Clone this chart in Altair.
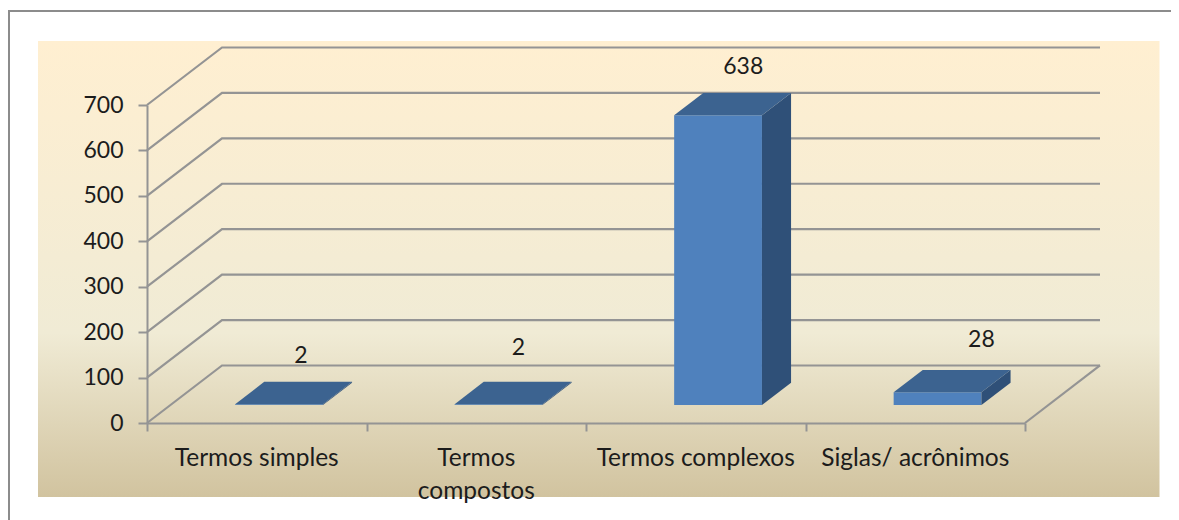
import altair as alt
import pandas as pd

categories = ["Termos simples", "Termos compostos", "Termos complexos", "Siglas/ acrônimos"]
axis_labels = ["Termos simples", "Termos\ncompostos", "Termos complexos", "Siglas/ acrônimos"]
values = [2, 2, 638, 28]
y_ticks = [0, 100, 200, 300, 400, 500, 600, 700]
x_ticks = [0, 1, 2, 3, 4]

# oblique projection: a point at depth d (0 front .. 1 back) moves by d*DX, d*DY
DX, DY = 0.3417, 126.6
BAR_L, BAR_W = 0.295, 0.4
D0, D1 = 0.312, 0.70
LABEL_LIFT = [57, 75, 57, 66]
LABEL_SHIFT = [0.10, 0.09, 0.115, 0.20]

FONT = "Lato"
GRID = "#949494"
x_s = alt.Scale(domain=[0, 4], nice=False, zero=False)
y_s = alt.Scale(domain=[0, 700], nice=False, zero=False)
x_ax = alt.Axis(values=x_ticks, labels=False, title=None, grid=False, tickSize=8, tickWidth=2,
                tickColor=GRID, domainColor=GRID, domainWidth=2, zindex=1)
y_ax = alt.Axis(values=y_ticks, title=None, grid=False, tickSize=9, tickWidth=2, tickColor=GRID,
                domainColor=GRID, domainWidth=2, labelFont=FONT, labelFontSize=23,
                labelColor="#1c1c1c", labelPadding=15, zindex=1)
X = alt.X("x:Q", scale=x_s, axis=x_ax)
Y = alt.Y("y:Q", scale=y_s, axis=y_ax)

# wall lines
wall = []
for v in y_ticks:
    wall += [{"k": f"w{v}", "o": 0, "x": 0, "y": v},
             {"k": f"w{v}", "o": 1, "x": DX, "y": v + DY},
             {"k": f"w{v}", "o": 2, "x": 4 + DX, "y": v + DY}]
wall += [{"k": "floor", "o": 0, "x": 4, "y": 0}, {"k": "floor", "o": 1, "x": 4 + DX, "y": DY}]
grid = alt.Chart(pd.DataFrame(wall)).mark_line(color=GRID, strokeWidth=2.2).encode(
    x=X, y=Y, detail="k:N", order="o:Q")

# bar faces
front, top, side, labels = [], [], [], []
for i, (c, v) in enumerate(zip(categories, values)):
    a, b = i + BAR_L, i + BAR_L + BAR_W
    front.append({"c": c, "x": a + D0 * DX, "x2": b + D0 * DX, "y": D0 * DY, "y2": v + D0 * DY})
    for d in (D0, D1):
        top.append({"c": c, "y": v + d * DY, "x": a + d * DX, "x2": b + d * DX})
        side.append({"c": c, "x": b + d * DX, "y": d * DY, "y2": v + d * DY})
    labels.append({"t": str(v), "x": (a + b) / 2 + D0 * DX + LABEL_SHIFT[i],
                   "y": v + D1 * DY + LABEL_LIFT[i]})

front_l = alt.Chart(pd.DataFrame(front)).mark_rect(color="#4F81BD").encode(
    x=X, x2="x2:Q", y=Y, y2="y2:Q")
top_l = alt.Chart(pd.DataFrame(top)).mark_area(orient="horizontal", color="#3C6390", opacity=1).encode(
    x=X, x2="x2:Q", y=Y, detail="c:N")
side_l = alt.Chart(pd.DataFrame(side)).mark_area(orient="vertical", color="#2F5078", opacity=1).encode(
    x=X, y=Y, y2="y2:Q", detail="c:N")
val_l = alt.Chart(pd.DataFrame(labels)).mark_text(
    font=FONT, fontSize=23, color="#1c1c1c", baseline="middle", align="center").encode(
    x=X, y=Y, text="t:N")

cat_df = pd.DataFrame({"t": axis_labels, "x": [i + 0.5 for i in range(4)]})
cat_l = alt.Chart(cat_df).mark_text(
    font=FONT, fontSize=24.5, color="#1c1c1c", baseline="top", align="center",
    lineBreak="\n", lineHeight=33).encode(
    x=X, y=alt.value(341.5), text="t:N")

# chart-area panel and its frame
one = pd.DataFrame({"a": [0]})
panel = alt.Chart(one).mark_rect(color=alt.Gradient(
    gradient="linear", x1=0, x2=0, y1=0, y2=1,
    stops=[alt.GradientStop(color="#FFEFD1", offset=0),
           alt.GradientStop(color="#F0EBD5", offset=0.64),
           alt.GradientStop(color="#D1C39F", offset=1)])).encode(
    x=alt.value(-109), x2=alt.value(1012.5), y=alt.value(-64), y2=alt.value(392))
frame_l = alt.Chart(one).mark_rule(color="#8C8C8C", strokeWidth=2).encode(
    x=alt.value(-138), y=alt.value(-94), y2=alt.value(420))
frame_t = alt.Chart(one).mark_rule(color="#8C8C8C", strokeWidth=2).encode(
    x=alt.value(-139), x2=alt.value(1040), y=alt.value(-94))

chart = alt.layer(panel, frame_l, frame_t, grid, front_l, side_l, top_l, val_l, cat_l).properties(
    width=878, height=318,
    padding={"left": 139, "top": 97, "right": 146, "bottom": 97},
    autosize=alt.AutoSizeParams(type="none"),
    background="white",
).configure_view(strokeWidth=0)

chart.save("out.html", embed_options={"renderer": "svg", "actions": False})
